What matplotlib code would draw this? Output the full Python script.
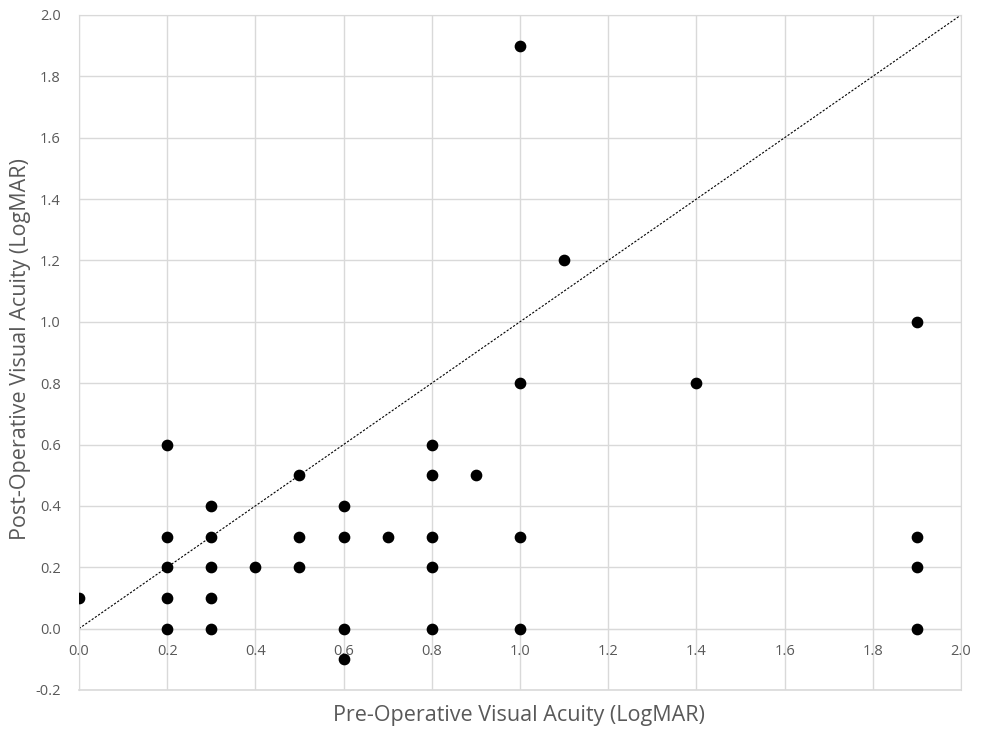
import matplotlib.pyplot as plt

# Pre-op vs post-op visual acuity (LogMAR)
pre_op = [0.0,
          0.2, 0.2, 0.2, 0.2, 0.2,
          0.3, 0.3, 0.3, 0.3, 0.3,
          0.4,
          0.5, 0.5, 0.5,
          0.6, 0.6, 0.6, 0.6,
          0.7,
          0.8, 0.8, 0.8, 0.8, 0.8,
          0.9,
          1.0, 1.0, 1.0, 1.0,
          1.1,
          1.4,
          1.9, 1.9, 1.9, 1.9]
post_op = [0.1,
           0.6, 0.3, 0.2, 0.1, 0.0,
           0.4, 0.3, 0.2, 0.1, 0.0,
           0.2,
           0.5, 0.3, 0.2,
           0.4, 0.3, 0.0, -0.1,
           0.3,
           0.6, 0.5, 0.3, 0.2, 0.0,
           0.5,
           1.9, 0.8, 0.3, 0.0,
           1.2,
           0.8,
           1.0, 0.3, 0.2, 0.0]
ref_line = [0.0, 2.0]
x_ticks = [0.0, 0.2, 0.4, 0.6, 0.8, 1.0, 1.2, 1.4, 1.6, 1.8, 2.0]
y_ticks = [-0.2, 0.0, 0.2, 0.4, 0.6, 0.8, 1.0, 1.2, 1.4, 1.6, 1.8, 2.0]

plt.rcParams['font.family'] = ['Open Sans', 'DejaVu Sans']
grid_col = '#d9d9d9'
text_col = '#595959'

fig = plt.figure(figsize=(9.82, 7.31), dpi=100)
ax = fig.add_axes([0.0804, 0.0561, 0.8982, 0.9234])

ax.set_xlim(0, 2.0)
ax.set_ylim(-0.2, 2.0)
ax.set_xticks(x_ticks)
ax.set_yticks(y_ticks)
ax.grid(True, color=grid_col, linewidth=1)
ax.set_axisbelow(True)

# x axis crosses at y = 0 like Excel
for side in ['top', 'right', 'left']:
	ax.spines[side].set_color(grid_col)
ax.spines['bottom'].set_position(('data', 0))
ax.spines['bottom'].set_color(grid_col)
ax.axhline(-0.2, color=grid_col, linewidth=1.2, clip_on=False)

ax.tick_params(length=0, colors=text_col, labelsize=10.5)
ax.tick_params(axis='x', pad=11)
ax.xaxis.set_major_formatter(plt.FormatStrFormatter('%.1f'))
ax.yaxis.set_major_formatter(plt.FormatStrFormatter('%.1f'))
ax.tick_params(axis='y', pad=13)

ax.plot(ref_line, ref_line, color='black', linestyle=(0, (2, 1.5)), linewidth=0.8)
ax.scatter(pre_op, post_op, s=55, color='black', zorder=3)

fig.text(0.528, 0.021, 'Pre-Operative Visual Acuity (LogMAR)', ha='center', va='center',
	fontsize=15.5, color=text_col)
fig.text(0.021, 0.523, 'Post-Operative Visual Acuity (LogMAR)', ha='center', va='center',
	rotation=90, fontsize=15.5, color=text_col)

fig.savefig('out.png', dpi=100)
